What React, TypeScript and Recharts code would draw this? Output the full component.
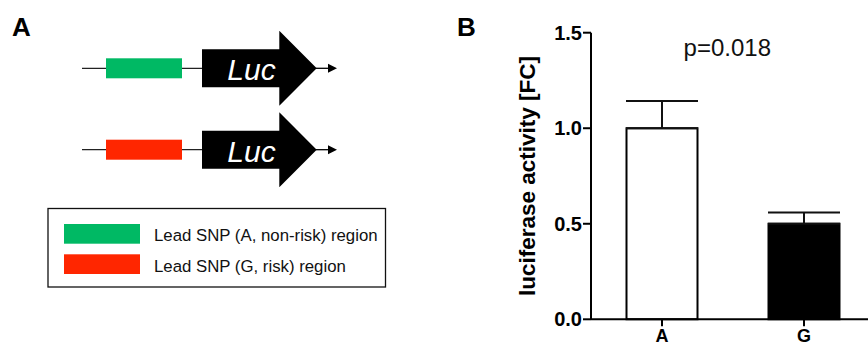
import React from "react"
import { Bar, BarChart, Cell, ErrorBar, XAxis, YAxis } from "recharts"

// panel B values
const categories = ["A", "G"]
const means = [1.0, 0.5]
const semUpper = [0.143, 0.059]
const barFills = ["#ffffff", "#000000"]
const yTicks = [0, 0.5, 1.0, 1.5]
const pValueText = "p=0.018"

// panel A schematic
const regionColors = ["#00b964", "#ff2600"]
const regionLabels = ["Lead SNP (A, non-risk) region", "Lead SNP (G, risk) region"]

const FONT = "'Liberation Sans', Arial, Helvetica, sans-serif"

const chartData = categories.map((name, i) => ({
  name,
  value: means[i],
  err: [0, semUpper[i]],
}))

function Construct({ cy, color }: { cy: number; color: string }) {
  const bodyHalf = 19
  const headHalf = 37.5
  return (
    <g>
      <line x1={82} y1={cy} x2={204} y2={cy} stroke="#222" strokeWidth={1.3} />
      <rect x={106} y={cy - 10} width={76} height={20} fill={color} />
      <line x1={316} y1={cy} x2={330} y2={cy} stroke="#000" strokeWidth={1.3} />
      <polygon points={`${328},${cy - 4.5} ${337},${cy} ${328},${cy + 4.5}`} fill="#000" />
      <polygon
        points={`202,${cy - bodyHalf} 279.3,${cy - bodyHalf} 279.3,${cy - headHalf} 316.7,${cy} 279.3,${cy + headHalf} 279.3,${cy + bodyHalf} 202,${cy + bodyHalf}`}
        fill="#000"
      />
      <text
        x={251.5}
        y={cy + 12}
        fill="#fff"
        fontFamily={FONT}
        fontStyle="italic"
        fontSize={30}
        textAnchor="middle"
      >
        Luc
      </text>
    </g>
  )
}

function PanelA() {
  const rows = [68.3, 149.7]
  return (
    <svg width={440} height={347} style={{ position: "absolute", left: 0, top: 0 }}>
      <text x={12} y={35.7} fontFamily={FONT} fontWeight="bold" fontSize={26} fill="#000">
        A
      </text>
      {rows.map((cy, i) => (
        <Construct key={i} cy={cy} color={regionColors[i]} />
      ))}
      <rect x={48} y={208.5} width={337.5} height={78.5} fill="#fff" stroke="#111" strokeWidth={1.3} />
      {regionLabels.map((label, i) => (
        <g key={label}>
          <rect x={64} y={224 + i * 30.3} width={76} height={19.7} fill={regionColors[i]} />
          <text x={154} y={240.7 + i * 31} fontFamily={FONT} fontSize={16.8} fill="#111">
            {label}
          </text>
        </g>
      ))}
    </svg>
  )
}

export default function App() {
  return (
    <div
      style={{
        position: "absolute",
        left: 0,
        top: 0,
        width: 868,
        height: 347,
        overflow: "hidden",
        background: "#fff",
        fontFamily: FONT,
      }}
    >
      <PanelA />
      <div style={{ position: "absolute", left: 440, top: 0 }}>
        <BarChart
          width={435}
          height={360}
          data={chartData}
          margin={{ top: 32.7, right: 0, bottom: 0, left: 0 }}
          barCategoryGap="25%"
        >
          <XAxis
            dataKey="name"
            height={40.7}
            tickSize={7}
            tickMargin={3}
            axisLine={{ stroke: "#000", strokeWidth: 2 }}
            tickLine={{ stroke: "#000", strokeWidth: 2 }}
            tick={{ fill: "#000", fontSize: 18, fontWeight: "bold", fontFamily: FONT }}
          />
          <YAxis
            width={151}
            domain={[0, 1.5]}
            ticks={yTicks}
            tickFormatter={(v: number) => v.toFixed(1)}
            tickSize={8}
            tickMargin={1}
            axisLine={{ stroke: "#000", strokeWidth: 2 }}
            tickLine={{ stroke: "#000", strokeWidth: 2 }}
            tick={{ fill: "#000", fontSize: 20, fontWeight: "bold", fontFamily: FONT }}
            label={{
              value: "luciferase activity [FC]",
              angle: -90,
              position: "insideLeft",
              offset: 87,
              style: {
                textAnchor: "middle",
                fontSize: 22.5,
                fontWeight: "bold",
                fill: "#000",
                fontFamily: FONT,
              },
            }}
          />
          <Bar dataKey="value" isAnimationActive={false}>
            {chartData.map((d, i) => (
              <Cell key={d.name} fill={barFills[i]} stroke="#000" strokeWidth={2} />
            ))}
            <ErrorBar dataKey="err" width={36} stroke="#111" strokeWidth={2} direction="y" />
          </Bar>
        </BarChart>
      </div>
      <svg width={868} height={347} style={{ position: "absolute", left: 0, top: 0, pointerEvents: "none" }}>
        <text x={457} y={35.7} fontFamily={FONT} fontWeight="bold" fontSize={26} fill="#000">
          B
        </text>
        <text x={727.3} y={56} fontFamily={FONT} fontSize={24} fill="#111" textAnchor="middle">
          {pValueText}
        </text>
      </svg>
    </div>
  )
}
